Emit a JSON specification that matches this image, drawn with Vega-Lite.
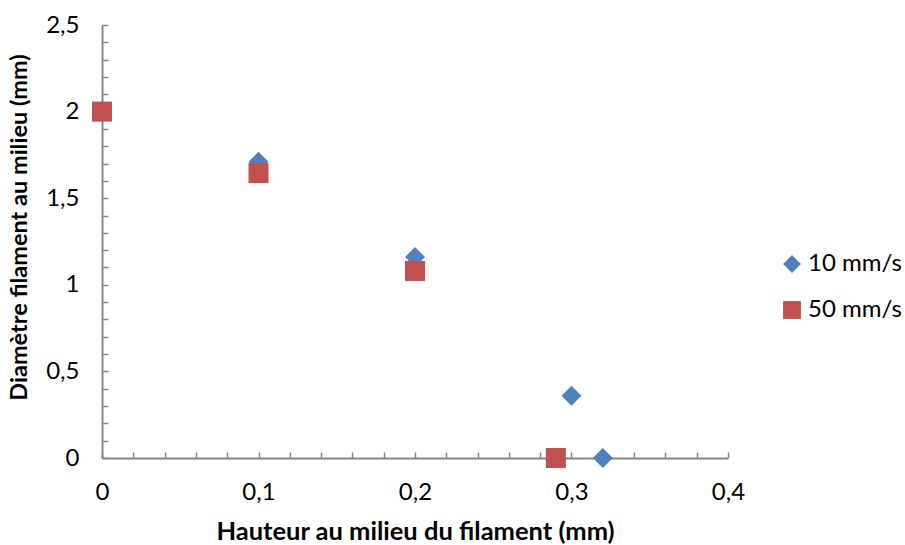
{
  "$schema": "https://vega.github.io/schema/vega-lite/v6.json",
  "width": 626,
  "height": 433,
  "autosize": "none",
  "padding": {"left": 102, "top": 25, "right": 177, "bottom": 87},
  "background": "white",
  "config": {"view": {"stroke": null}, "font": "Lato"},
  "data": {
    "values": [
      {"h": 0.1, "d": 1.71, "s": "10 mm/s"},
      {"h": 0.2, "d": 1.16, "s": "10 mm/s"},
      {"h": 0.3, "d": 0.36, "s": "10 mm/s"},
      {"h": 0.32, "d": 0.0, "s": "10 mm/s"},
      {"h": 0.0, "d": 2.0, "s": "50 mm/s"},
      {"h": 0.1, "d": 1.645, "s": "50 mm/s"},
      {"h": 0.2, "d": 1.08, "s": "50 mm/s"},
      {"h": 0.29, "d": 0.0, "s": "50 mm/s"}
    ]
  },
  "mark": {"type": "point", "filled": true, "opacity": 1},
  "encoding": {
    "x": {
      "field": "h",
      "type": "quantitative",
      "scale": {"domain": [0, 0.4], "nice": false, "zero": false},
      "axis": {
        "title": "Hauteur au milieu du filament (mm)",
        "values": [0, 0.02, 0.04, 0.06, 0.08, 0.1, 0.12, 0.14, 0.16, 0.18, 0.2, 0.22, 0.24, 0.26, 0.28, 0.3, 0.32, 0.34, 0.36, 0.38, 0.4],
        "labelExpr": "abs(datum.value*10 - round(datum.value*10)) < 0.001 ? replace(format(datum.value, '~g'), '.', ',') : ''",
        "labelOverlap": false,
        "labelFlush": false,
        "grid": false,
        "domainColor": "#868686",
        "domainWidth": 2,
        "tickColor": "#868686",
        "tickWidth": 1.5,
        "tickSize": -6,
        "labelFontSize": 24,
        "labelColor": "#000000",
        "labelPadding": 28,
        "titleFontSize": 25.5,
        "titleFontWeight": "bold",
        "titleColor": "#000000",
        "titlePadding": 15
      }
    },
    "y": {
      "field": "d",
      "type": "quantitative",
      "scale": {"domain": [0, 2.5], "nice": false},
      "axis": {
        "title": "Diamètre filament au milieu (mm)",
        "values": [0, 0.1, 0.2, 0.3, 0.4, 0.5, 0.6, 0.7, 0.8, 0.9, 1, 1.1, 1.2, 1.3, 1.4, 1.5, 1.6, 1.7, 1.8, 1.9, 2, 2.1, 2.2, 2.3, 2.4, 2.5],
        "labelExpr": "abs(datum.value*2 - round(datum.value*2)) < 0.001 ? replace(format(datum.value, '~g'), '.', ',') : ''",
        "labelOverlap": false,
        "labelFlush": false,
        "grid": false,
        "domainColor": "#868686",
        "domainWidth": 2,
        "tickColor": "#868686",
        "tickWidth": 1.5,
        "tickSize": -6,
        "labelFontSize": 24,
        "labelColor": "#000000",
        "labelPadding": 29,
        "titleFontSize": 23.5,
        "titleFontWeight": "bold",
        "titleColor": "#000000",
        "titlePadding": 14,
        "titleY": 202
      }
    },
    "color": {
      "field": "s",
      "type": "nominal",
      "scale": {"domain": ["10 mm/s", "50 mm/s"], "range": ["#4F81BD", "#C0504D"]},
      "legend": {
        "title": null,
        "orient": "none",
        "legendX": 678,
        "legendY": 227,
        "labelFontSize": 24,
        "labelColor": "#000000",
        "symbolSize": 320,
        "rowPadding": 22,
        "labelOffset": 4,
        "symbolStrokeWidth": 0
      }
    },
    "shape": {
      "field": "s",
      "type": "nominal",
      "scale": {"domain": ["10 mm/s", "50 mm/s"], "range": ["diamond", "square"]}
    },
    "size": {"value": 400}
  }
}
